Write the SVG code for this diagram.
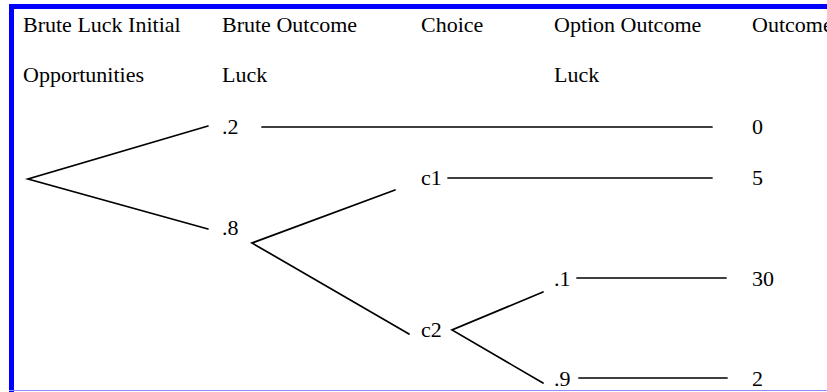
<svg xmlns="http://www.w3.org/2000/svg" width="827" height="392" viewBox="0 0 827 392">
<style>
text{font-family:"Liberation Serif","Times New Roman",serif;font-size:22px;fill:#000}
.c line,.c polyline{stroke:#000;stroke-width:1.7;fill:none;stroke-linecap:round}
</style>
<rect x="0" y="0" width="827" height="392" fill="#fff"/>
<g id="frame">
<rect x="9" y="4" width="818" height="5" fill="#0000ff"/>
<rect x="9" y="4" width="5" height="388" fill="#0000ff"/>
<line x1="9" y1="390.5" x2="827" y2="390.5" stroke="#8c8cff" stroke-width="1"/>
</g>
<g id="headers">
<text x="23" y="32">Brute Luck Initial</text>
<text x="23" y="82">Opportunities</text>
<text x="222" y="32">Brute Outcome</text>
<text x="222" y="82">Luck</text>
<text x="421" y="32">Choice</text>
<text x="554" y="32">Option Outcome</text>
<text x="554" y="82">Luck</text>
<text x="752" y="32">Outcome</text>
</g>
<g class="c" id="connectors">
<polyline points="208,126 28,179 208,229"/>
<line x1="262" y1="127" x2="712" y2="127"/>
<polyline points="395,190 252,243 409,334"/>
<line x1="448" y1="178" x2="712" y2="178"/>
<polyline points="543,292 452,330 543,383"/>
<line x1="577" y1="278" x2="726" y2="278"/>
<line x1="579" y1="378" x2="727" y2="378"/>
</g>
<g id="node-p2"><text x="222" y="134">.2</text></g>
<g id="node-p8"><text x="222" y="235">.8</text></g>
<g id="node-c1"><text x="421" y="185">c1</text></g>
<g id="node-c2"><text x="421" y="337">c2</text></g>
<g id="node-p1"><text x="554" y="286">.1</text></g>
<g id="node-p9"><text x="554" y="386">.9</text></g>
<g id="out-0"><text x="752" y="134">0</text></g>
<g id="out-5"><text x="752" y="185">5</text></g>
<g id="out-30"><text x="752" y="286">30</text></g>
<g id="out-2"><text x="752" y="386">2</text></g>
</svg>
